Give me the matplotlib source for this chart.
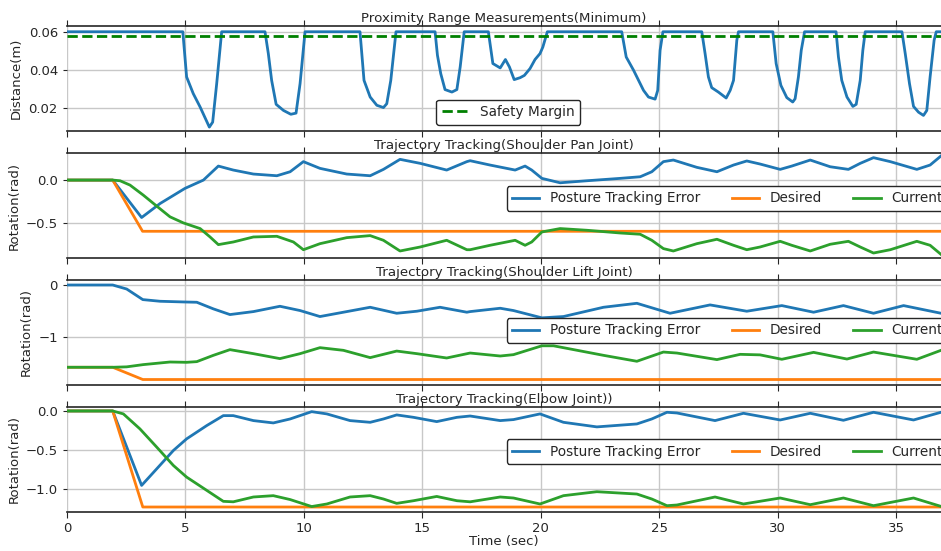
import matplotlib
matplotlib.use("Agg")
import matplotlib.pyplot as plt

# ---------------- data ----------------
x_max = 36.9
safety_margin = 0.058

prox_t = [0.0, 4.89, 5.05, 5.33, 5.62, 6.01, 6.15, 6.32, 6.53,
          8.36, 8.50, 8.64, 8.83, 9.14, 9.45, 9.67, 9.84, 10.05,
          12.37, 12.54, 12.80, 13.08, 13.36, 13.50, 13.67, 13.89,
          15.54, 15.64, 15.78, 15.96, 16.25, 16.46, 16.60, 16.77,
          17.79, 17.98, 18.29, 18.51, 18.68, 18.88, 19.13, 19.31, 19.55, 19.76, 19.97, 20.09, 20.28,
          23.42, 23.61, 23.92, 24.34, 24.55, 24.83, 24.94, 25.04, 25.16,
          26.80, 26.94, 27.08, 27.22, 27.50, 27.83, 28.00, 28.14, 28.28, 28.35,
          29.80, 29.94, 30.14, 30.39, 30.64, 30.74, 30.88, 31.00, 31.14,
          32.47, 32.57, 32.71, 32.93, 33.18, 33.32, 33.49, 33.60, 33.70,
          35.25, 35.39, 35.57, 35.74, 35.95, 36.16, 36.30, 36.44, 36.61, 36.70, 36.9]
prox_d = [0.060, 0.060, 0.0364, 0.0277, 0.0207, 0.0102, 0.0128, 0.0329, 0.060,
          0.060, 0.0486, 0.0346, 0.0221, 0.0189, 0.0169, 0.0175, 0.0329, 0.060,
          0.060, 0.0346, 0.0259, 0.0216, 0.0204, 0.0224, 0.0346, 0.060,
          0.060, 0.0477, 0.0381, 0.0298, 0.0285, 0.0298, 0.0416, 0.060,
          0.060, 0.0434, 0.0411, 0.0455, 0.0416, 0.0350, 0.0360, 0.0372, 0.0408, 0.0455, 0.0486, 0.0520, 0.060,
          0.060, 0.0468, 0.0399, 0.0294, 0.0259, 0.0248, 0.0294, 0.0503, 0.060,
          0.060, 0.0486, 0.0364, 0.0308, 0.0285, 0.0254, 0.0294, 0.0346, 0.0556, 0.060,
          0.060, 0.0434, 0.0320, 0.0256, 0.0233, 0.0250, 0.0364, 0.0503, 0.060,
          0.060, 0.0468, 0.0346, 0.0259, 0.0210, 0.0221, 0.0346, 0.0503, 0.060,
          0.060, 0.0486, 0.0329, 0.0210, 0.0180, 0.0163, 0.0189, 0.0364, 0.0556, 0.060, 0.060]

# Shoulder pan joint
pan_des_t = [0.0, 1.93, 3.19, 36.9]
pan_des = [0.0, 0.0, -0.603, -0.603]
pan_err_t = [0.0, 1.93, 3.15, 3.93, 4.98, 5.76, 6.39, 7.02, 7.87, 8.86, 9.42, 9.98, 10.68,
             11.81, 12.80, 13.36, 14.06, 14.91, 16.03, 16.88, 17.02, 17.86, 18.92, 19.34,
             19.62, 20.05, 20.82, 21.95, 23.35, 24.20, 24.69, 25.18, 25.60, 26.59, 27.44,
             28.14, 28.70, 29.26, 30.11, 30.60, 31.38, 32.22, 32.99, 33.49, 34.05, 34.76,
             35.88, 36.44, 36.9]
pan_err = [0.0, 0.0, -0.441, -0.276, -0.098, 0.0, 0.165, 0.118, 0.071, 0.051, 0.098, 0.217, 0.138,
           0.071, 0.051, 0.126, 0.244, 0.197, 0.118, 0.217, 0.228, 0.177, 0.118, 0.165,
           0.118, 0.020, -0.032, -0.008, 0.020, 0.039, 0.098, 0.217, 0.236, 0.150, 0.098,
           0.177, 0.225, 0.189, 0.126, 0.165, 0.236, 0.157, 0.126, 0.197, 0.264, 0.217,
           0.126, 0.177, 0.284]
pan_cur_t = [0.0, 1.93, 2.24, 2.66, 3.22, 3.79, 4.35, 4.91, 5.62, 6.04, 6.39, 7.02, 7.87,
             8.86, 9.56, 9.98, 10.68, 11.81, 12.80, 13.36, 14.06, 14.91, 16.03, 16.88,
             17.02, 17.86, 18.92, 19.34, 19.62, 20.05, 20.82, 21.95, 23.35, 24.20, 24.69,
             25.18, 25.60, 26.59, 27.44, 28.14, 28.70, 29.26, 30.11, 30.60, 31.38, 32.22,
             32.99, 33.49, 34.05, 34.76, 35.88, 36.44, 36.9]
pan_cur = [0.0, 0.0, -0.008, -0.059, -0.177, -0.307, -0.433, -0.504, -0.571, -0.670, -0.760, -0.729, -0.670,
           -0.662, -0.729, -0.820, -0.749, -0.678, -0.654, -0.709, -0.835, -0.788, -0.709, -0.820,
           -0.820, -0.768, -0.709, -0.768, -0.729, -0.611, -0.571, -0.591, -0.623, -0.638, -0.709,
           -0.807, -0.835, -0.749, -0.697, -0.768, -0.820, -0.788, -0.721, -0.768, -0.835, -0.756,
           -0.721, -0.788, -0.859, -0.820, -0.721, -0.768, -0.875]

# Shoulder lift joint
lift_des_t = [0.0, 1.93, 3.20, 36.9]
lift_des = [-1.578, -1.578, -1.813, -1.813]
lift_err_t = [0.0, 1.93, 2.52, 3.20, 3.93, 4.91, 5.48, 6.18, 6.88, 7.87, 8.99, 9.84, 10.68,
              11.67, 12.80, 13.92, 14.77, 15.75, 16.88, 17.02, 18.29, 18.85, 20.05, 20.96,
              22.65, 24.06, 25.46, 27.15, 28.70, 30.18, 31.52, 32.78, 34.05, 35.32, 36.9]
lift_err = [0.0, 0.0, -0.077, -0.280, -0.312, -0.325, -0.331, -0.458, -0.567, -0.510, -0.408, -0.490, -0.605,
            -0.522, -0.427, -0.542, -0.503, -0.427, -0.522, -0.510, -0.446, -0.490, -0.630, -0.605,
            -0.427, -0.351, -0.542, -0.382, -0.503, -0.395, -0.522, -0.395, -0.542, -0.395, -0.542]
lift_cur_t = [0.0, 1.93, 2.52, 3.22, 4.35, 5.05, 5.48, 6.18, 6.88, 7.87, 8.99, 9.84, 10.68,
              11.67, 12.80, 13.92, 14.77, 16.03, 17.02, 18.29, 18.85, 20.05, 20.54, 22.65,
              24.06, 25.18, 25.75, 27.44, 28.42, 29.26, 30.18, 31.52, 32.93, 34.05, 35.88, 36.9]
lift_cur = [-1.578, -1.578, -1.570, -1.527, -1.477, -1.483, -1.470, -1.349, -1.240, -1.317, -1.412, -1.317, -1.202,
            -1.253, -1.393, -1.267, -1.317, -1.400, -1.305, -1.362, -1.336, -1.166, -1.166, -1.349,
            -1.463, -1.286, -1.305, -1.431, -1.330, -1.340, -1.425, -1.292, -1.420, -1.286, -1.425, -1.253]

# Elbow joint
elb_des_t = [0.0, 1.93, 3.20, 36.9]
elb_des = [0.0, 0.0, -1.236, -1.236]
elb_err_t = [0.0, 1.93, 3.15, 3.79, 4.49, 5.05, 5.90, 6.60, 7.02, 7.87, 8.71, 9.42, 10.33,
             10.97, 11.95, 12.80, 13.36, 13.92, 14.63, 15.61, 16.46, 17.02, 18.29, 18.85,
             19.97, 20.96, 22.37, 24.06, 24.69, 25.33, 25.75, 27.36, 28.56, 30.11, 31.38,
             32.78, 34.05, 35.74, 36.9]
elb_err = [0.0, 0.0, -0.958, -0.744, -0.509, -0.359, -0.188, -0.060, -0.060, -0.124, -0.154, -0.103, -0.009,
           -0.038, -0.124, -0.146, -0.103, -0.051, -0.082, -0.137, -0.082, -0.065, -0.124, -0.111,
           -0.038, -0.146, -0.205, -0.167, -0.103, -0.017, -0.026, -0.124, -0.030, -0.116, -0.030,
           -0.120, -0.017, -0.116, -0.017]
elb_cur_t = [0.0, 1.93, 2.38, 3.08, 3.79, 4.49, 5.05, 5.90, 6.60, 7.02, 7.87, 8.71, 9.42, 10.33,
             10.97, 11.95, 12.80, 13.36, 13.92, 14.63, 15.61, 16.46, 17.02, 18.29, 18.85,
             19.97, 20.96, 22.37, 24.06, 24.69, 25.33, 25.75, 27.36, 28.56, 30.11, 31.38,
             32.78, 34.05, 35.74, 36.9]
elb_cur = [0.0, 0.0, -0.038, -0.231, -0.466, -0.701, -0.851, -1.022, -1.163, -1.169, -1.107, -1.090, -1.140, -1.230,
           -1.197, -1.107, -1.090, -1.133, -1.189, -1.155, -1.100, -1.155, -1.169, -1.107, -1.120,
           -1.197, -1.090, -1.039, -1.069, -1.133, -1.219, -1.210, -1.107, -1.197, -1.120, -1.206,
           -1.120, -1.219, -1.120, -1.228]

titles = ["Proximity Range Measurements(Minimum)",
          "Trajectory Tracking(Shoulder Pan Joint)",
          "Trajectory Tracking(Shoulder Lift Joint)",
          "Trajectory Tracking(Elbow Joint))"]
legend_labels = ["Posture Tracking Error", "Desired", "Current"]

# ---------------- style ----------------
dark = "#262626"
plt.rcParams.update({
    "font.family": "DejaVu Sans",
    "font.size": 9.5,
    "axes.edgecolor": dark,
    "xtick.color": dark,
    "ytick.color": dark,
    "axes.labelcolor": dark,
    "text.color": dark,
})

fig, axes = plt.subplots(4, 1, figsize=(9.41, 5.51), dpi=100, sharex=True)
fig.subplots_adjust(left=0.0712, right=1.0, top=0.9528, bottom=0.0708, hspace=0.205)

C_BLUE, C_ORANGE, C_GREEN = "#1f77b4", "#ff7f0e", "#2ca02c"
lw = 2.0

ax = axes[0]
ax.plot(prox_t, prox_d, color=C_BLUE, lw=lw)
ax.axhline(safety_margin, color="green", ls="--", lw=lw, label="Safety Margin")
ax.set_ylim(0.008, 0.063)
ax.set_yticks([0.02, 0.04, 0.06])
ax.set_ylabel("Distance(m)")
ax.legend(loc="lower center", bbox_to_anchor=(0.505, 0.0), framealpha=1,
          edgecolor=dark, fontsize=9.8)

panels = [
    (axes[1], pan_err_t, pan_err, pan_des_t, pan_des, pan_cur_t, pan_cur, (-0.92, 0.32), [-0.5, 0.0], "{:.1f}", 0.567),
    (axes[2], lift_err_t, lift_err, lift_des_t, lift_des, lift_cur_t, lift_cur, (-1.92, 0.1), [-1, 0], "{:.0f}", 0.519),
    (axes[3], elb_err_t, elb_err, elb_des_t, elb_des, elb_cur_t, elb_cur, (-1.30, 0.055), [-1.0, -0.5, 0.0], "{:.1f}", 0.573),
]
for ax, et, ev, dt, dv, ct, cv, ylim, yt, fmt, ly in panels:
    ax.plot(et, ev, color=C_BLUE, lw=lw, label=legend_labels[0])
    ax.plot(dt, dv, color=C_ORANGE, lw=lw, label=legend_labels[1])
    ax.plot(ct, cv, color=C_GREEN, lw=lw, label=legend_labels[2])
    ax.set_ylim(*ylim)
    ax.set_yticks(yt)
    ax.set_yticklabels([fmt.format(v).replace("-", "\u2212") for v in yt])
    ax.set_ylabel("Rotation(rad)")
    ax.legend(loc="center left", bbox_to_anchor=(0.503, ly), ncol=3, borderaxespad=0,
              framealpha=1, edgecolor=dark, fontsize=9.8, columnspacing=2.3)

for ax, title in zip(axes, titles):
    ax.set_title(title, pad=3, fontsize=9.6)
    ax.set_xlim(0, x_max)
    ax.set_xticks([0, 5, 10, 15, 20, 25, 30, 35])
    ax.grid(True, color="#c8c8c8", lw=1.0)
    ax.spines["left"].set_visible(False)
    ax.spines["right"].set_visible(False)
    ax.spines["top"].set_linewidth(1.2)
    ax.spines["bottom"].set_linewidth(1.2)
    ax.tick_params(axis="x", top=True, direction="out", length=4)
    ax.tick_params(axis="y", direction="out", length=3)

axes[3].set_xlabel("Time (sec)", labelpad=0)

fig.savefig("out.png", dpi=100)
